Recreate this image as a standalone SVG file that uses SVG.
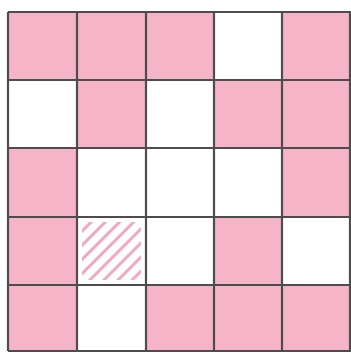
<svg xmlns="http://www.w3.org/2000/svg" width="351" height="354" viewBox="0 0 351 354">
<style>
.p{fill:#f5b4c8}
.w{fill:#ffffff}
.g{stroke:#4d4d4d;stroke-width:2.2;fill:none}
</style>
<defs>
<pattern id="hatch" patternUnits="userSpaceOnUse" width="10" height="10" patternTransform="rotate(45)">
<rect width="10" height="10" fill="#fff"/>
<rect x="0" y="0" width="3" height="10" fill="#f2a9bf"/>
</pattern>
</defs>
<rect width="351" height="354" fill="#fff"/>
<g id="cells">
<rect class="p" x="8" y="12" width="69" height="68"/>
<rect class="p" x="77" y="12" width="69" height="68"/>
<rect class="p" x="146" y="12" width="68" height="68"/>
<rect class="p" x="282" y="12" width="69" height="68"/>
<rect class="p" x="77" y="80" width="69" height="68"/>
<rect class="p" x="214" y="80" width="68" height="68"/>
<rect class="p" x="282" y="80" width="69" height="68"/>
<rect class="p" x="8" y="148" width="69" height="69"/>
<rect class="p" x="282" y="148" width="69" height="69"/>
<rect class="p" x="8" y="217" width="69" height="68"/>
<rect fill="url(#hatch)" x="82" y="222" width="59" height="58"/>
<rect class="p" x="214" y="217" width="68" height="68"/>
<rect class="p" x="8" y="285" width="69" height="66"/>
<rect class="p" x="146" y="285" width="68" height="66"/>
<rect class="p" x="214" y="285" width="68" height="66"/>
<rect class="p" x="282" y="285" width="69" height="66"/>
</g>
<g id="grid" class="g">
<path d="M8 12H351M8 80H351M8 148H351M8 217H351M8 285H351M8 351H351"/>
<path d="M8 12V351M77 12V351M146 12V351M214 12V351M282 12V351M350 12V351"/>
</g>
</svg>
